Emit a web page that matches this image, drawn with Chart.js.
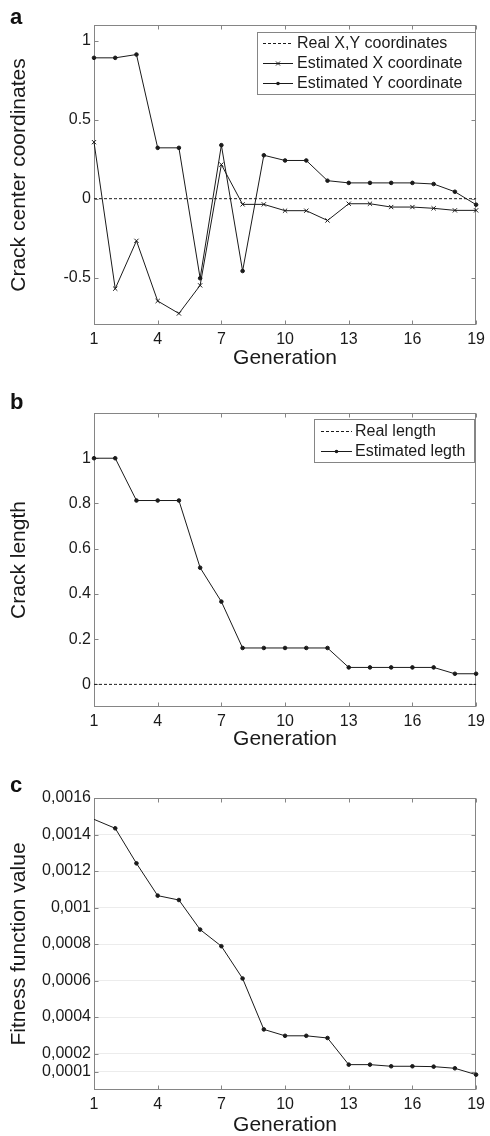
<!DOCTYPE html>
<html>
<head>
<meta charset="utf-8">
<title>Crack identification</title>
<script src="https://cdn.jsdelivr.net/npm/chart.js@4.4.1/dist/chart.umd.min.js"></script>
<style>
  body { margin: 0; background: #fff; }
  #figura { position: relative; width: 490px; height: 1136px; overflow: hidden; }
  #figura canvas { position: absolute; left: 0; }
  .letra {
    position: absolute;
    left: 10px;
    font-family: "Liberation Sans", Arial, sans-serif;
    font-weight: bold;
    font-size: 22px;
    line-height: 22px;
    color: #111;
  }
</style>
</head>
<body>
<div id="figura">
  <canvas id="graficoCoordenadas" width="490" height="380" style="top:0px"></canvas>
  <canvas id="graficoComprimento" width="490" height="370" style="top:380px"></canvas>
  <canvas id="graficoAptidao" width="490" height="386" style="top:750px"></canvas>
  <div class="letra" style="top:6px">a</div>
  <div class="letra" style="top:391px">b</div>
  <div class="letra" style="top:774px">c</div>
</div>
<script>
// dados por geração
const geracoes = [1, 2, 3, 4, 5, 6, 7, 8, 9, 10, 11, 12, 13, 14, 15, 16, 17, 18, 19];

const coordReal = [0, 0, 0, 0, 0, 0, 0, 0, 0, 0, 0, 0, 0, 0, 0, 0, 0, 0, 0];
const coordX = [0.358, -0.57, -0.267, -0.648, -0.727, -0.549, 0.216, -0.036, -0.036, -0.076,
  -0.076, -0.138, -0.032, -0.032, -0.053, -0.053, -0.061, -0.074, -0.074];
const coordY = [0.892, 0.892, 0.913, 0.322, 0.322, -0.504, 0.339, -0.458, 0.275, 0.242,
  0.242, 0.114, 0.1, 0.1, 0.1, 0.1, 0.093, 0.044, -0.038];

const comprimentoReal = [0, 0, 0, 0, 0, 0, 0, 0, 0, 0, 0, 0, 0, 0, 0, 0, 0, 0, 0];
const comprimentoEstimado = [1, 1, 0.813, 0.813, 0.813, 0.516, 0.366, 0.161, 0.161, 0.161,
  0.161, 0.161, 0.075, 0.075, 0.075, 0.075, 0.075, 0.047, 0.047];

const aptidao = [0.001483, 0.001434, 0.001242, 0.001065, 0.001041, 0.000879, 0.000788, 0.000611,
  0.000332, 0.000297, 0.000297, 0.000285, 0.000139, 0.000139, 0.00013, 0.00013, 0.000128,
  0.000119, 0.000084];

// marcas dos eixos
const ticksGeracao = [1, 4, 7, 10, 13, 16, 19];
const ticksCoord = [-0.5, 0, 0.5, 1];
const ticksComprimento = [0, 0.2, 0.4, 0.6, 0.8, 1];
const ticksAptidao = [0.0001, 0.0002, 0.0004, 0.0006, 0.0008, 0.001, 0.0012, 0.0014, 0.0016];

const FONTE = "'Liberation Sans', Arial, Helvetica, sans-serif";
const PRETO = "#1a1a1a";

Chart.defaults.font.family = FONTE;
Chart.defaults.color = PRETO;
Chart.defaults.animation = false;

function pontos(valores) {
  return geracoes.map((g, i) => ({ x: g, y: valores[i] }));
}

// moldura cinza com marcas para dentro, nos quatro lados
const moldura = {
  id: "moldura",
  beforeDatasetsDraw(chart) {
    const { ctx, chartArea: a, scales } = chart;
    const esq = Math.round(a.left) + 0.5;
    const dir = Math.round(a.right) - 0.5;
    const topo = Math.round(a.top) + 0.5;
    const base = Math.round(a.bottom) - 0.5;
    ctx.save();
    ctx.strokeStyle = "#858585";
    ctx.lineWidth = 1;
    ctx.strokeRect(esq, topo, dir - esq, base - topo);
    ctx.beginPath();
    scales.x.ticks.forEach((t) => {
      const px = Math.round(scales.x.getPixelForValue(t.value)) + 0.5;
      ctx.moveTo(px, base);
      ctx.lineTo(px, base - 4);
      ctx.moveTo(px, topo);
      ctx.lineTo(px, topo + 4);
    });
    scales.y.ticks.forEach((t) => {
      const py = Math.round(scales.y.getPixelForValue(t.value)) + 0.5;
      ctx.moveTo(esq, py);
      ctx.lineTo(esq + 4, py);
      ctx.moveTo(dir, py);
      ctx.lineTo(dir - 4, py);
    });
    ctx.stroke();
    ctx.restore();
  },
};

// legenda dentro da área do gráfico
const legendaInterna = {
  id: "legendaInterna",
  afterDraw(chart, args, opts) {
    const c = opts.caixa;
    if (!c) return;
    const ctx = chart.ctx;
    ctx.save();
    ctx.fillStyle = "#fff";
    ctx.fillRect(c.x, c.y, c.w, c.h);
    ctx.strokeStyle = "#858585";
    ctx.lineWidth = 1;
    ctx.strokeRect(c.x + 0.5, c.y + 0.5, c.w, c.h);
    ctx.font = "16px " + FONTE;
    ctx.textBaseline = "middle";
    chart.data.datasets.forEach((ds, i) => {
      const y = c.linhas[i] + 0.5;
      const meio = (c.amostra[0] + c.amostra[1]) / 2;
      ctx.strokeStyle = ds.borderColor;
      ctx.fillStyle = ds.borderColor;
      ctx.setLineDash(ds.borderDash || []);
      ctx.beginPath();
      ctx.moveTo(c.amostra[0], y);
      ctx.lineTo(c.amostra[1], y);
      ctx.stroke();
      ctx.setLineDash([]);
      if (ds.pointStyle === "crossRot") {
        ctx.beginPath();
        ctx.moveTo(meio - 2, y - 2);
        ctx.lineTo(meio + 2, y + 2);
        ctx.moveTo(meio - 2, y + 2);
        ctx.lineTo(meio + 2, y - 2);
        ctx.stroke();
      } else if (ds.pointRadius) {
        ctx.beginPath();
        ctx.arc(meio, y, 1.8, 0, Math.PI * 2);
        ctx.fill();
      }
      ctx.fillStyle = PRETO;
      ctx.fillText(ds.label, c.texto, y);
    });
    ctx.restore();
  },
};

function eixos(cfg) {
  return {
    x: {
      type: "linear",
      min: 1,
      max: 19,
      afterBuildTicks: (s) => {
        s.ticks = ticksGeracao.map((v) => ({ value: v }));
      },
      afterFit: (s) => {
        s.height = cfg.alturaX;
      },
      grid: { display: false, drawTicks: false },
      border: { display: false },
      ticks: { padding: 5, autoSkip: false, maxRotation: 0, font: { size: 16 }, color: PRETO, callback: (v) => String(v) },
      title: {
        display: true,
        text: "Generation",
        color: PRETO,
        font: { size: 21, lineHeight: 1 },
        padding: { top: 0, bottom: cfg.tituloX },
      },
    },
    y: {
      type: "linear",
      min: cfg.min,
      max: cfg.max,
      afterBuildTicks: (s) => {
        s.ticks = cfg.ticks.map((v) => ({ value: v }));
      },
      afterFit: (s) => {
        s.width = 94;
      },
      grid: {
        display: !!cfg.grade,
        drawTicks: false,
        color: "#ececec",
      },
      border: { display: false },
      ticks: { padding: 3, autoSkip: false, font: { size: 16 }, color: PRETO, callback: cfg.formato },
      title: {
        display: true,
        text: cfg.titulo,
        color: PRETO,
        font: { size: 21, lineHeight: 1 },
        padding: { top: 8.5, bottom: 0 },
      },
    },
  };
}

function opcoesBase(cfg, caixa) {
  return {
    responsive: false,
    devicePixelRatio: 1,
    layout: { padding: { top: cfg.topo, right: 10, left: 0, bottom: 0 } },
    plugins: {
      legend: { display: false },
      tooltip: { enabled: false },
      legendaInterna: { caixa: caixa },
    },
    scales: eixos(cfg),
  };
}

const linhaReal = (label, valores) => ({
  label: label,
  data: pontos(valores),
  borderColor: PRETO,
  borderWidth: 1,
  borderDash: [3, 2],
  pointRadius: 0,
  tension: 0,
  clip: false,
});

// (a) coordenadas do centro da trinca
const graficoCoordenadas = new Chart(document.getElementById("graficoCoordenadas"), {
  type: "line",
  data: {
    datasets: [
      linhaReal("Real X,Y coordinates", coordReal),
      {
        label: "Estimated X coordinate",
        data: pontos(coordX),
        borderColor: PRETO,
        borderWidth: 1,
        pointStyle: "crossRot",
        pointRadius: 3,
        pointBorderWidth: 1,
        pointBorderColor: PRETO,
        tension: 0,
        clip: false,
      },
      {
        label: "Estimated Y coordinate",
        data: pontos(coordY),
        borderColor: PRETO,
        borderWidth: 1,
        pointStyle: "circle",
        pointRadius: 1.8,
        pointBackgroundColor: PRETO,
        pointBorderColor: PRETO,
        tension: 0,
        clip: false,
      },
    ],
  },
  options: opcoesBase(
    { topo: 25, alturaX: 55, tituloX: 11.5, min: -0.8, max: 1.1, ticks: ticksCoord, titulo: "Crack center coordinates", formato: (v) => String(v) },
    { x: 257, y: 32, w: 218, h: 62, linhas: [43, 63, 83], amostra: [263, 293], texto: 297 },
  ),
  plugins: [moldura, legendaInterna],
});

// (b) comprimento da trinca
const graficoComprimento = new Chart(document.getElementById("graficoComprimento"), {
  type: "line",
  data: {
    datasets: [
      linhaReal("Real length", comprimentoReal),
      {
        label: "Estimated legth",
        data: pontos(comprimentoEstimado),
        borderColor: PRETO,
        borderWidth: 1,
        pointStyle: "circle",
        pointRadius: 1.8,
        pointBackgroundColor: PRETO,
        pointBorderColor: PRETO,
        tension: 0,
        clip: false,
      },
    ],
  },
  options: opcoesBase(
    { topo: 33, alturaX: 43, tituloX: 0, min: -0.1, max: 1.2, ticks: ticksComprimento, titulo: "Crack length", formato: (v) => String(v) },
    { x: 314, y: 39, w: 160, h: 43, linhas: [51, 71], amostra: [321, 352], texto: 355 },
  ),
  plugins: [moldura, legendaInterna],
});

// (c) valor da função de aptidão
const graficoAptidao = new Chart(document.getElementById("graficoAptidao"), {
  type: "line",
  data: {
    datasets: [
      {
        label: "Fitness function value",
        data: pontos(aptidao),
        borderColor: PRETO,
        borderWidth: 1,
        pointStyle: "circle",
        pointRadius: (ctx) => (ctx.dataIndex === 0 ? 0 : 1.8),
        pointBackgroundColor: PRETO,
        pointBorderColor: PRETO,
        tension: 0,
        clip: false,
      },
    ],
  },
  options: opcoesBase(
    {
      topo: 48, alturaX: 46, tituloX: 0, min: 0, max: 0.0016, ticks: ticksAptidao, grade: true,
      titulo: "Fitness function value",
      formato: (v) => String(v).replace(".", ","),
    },
    null,
  ),
  plugins: [moldura, legendaInterna],
});
</script>
</body>
</html>
